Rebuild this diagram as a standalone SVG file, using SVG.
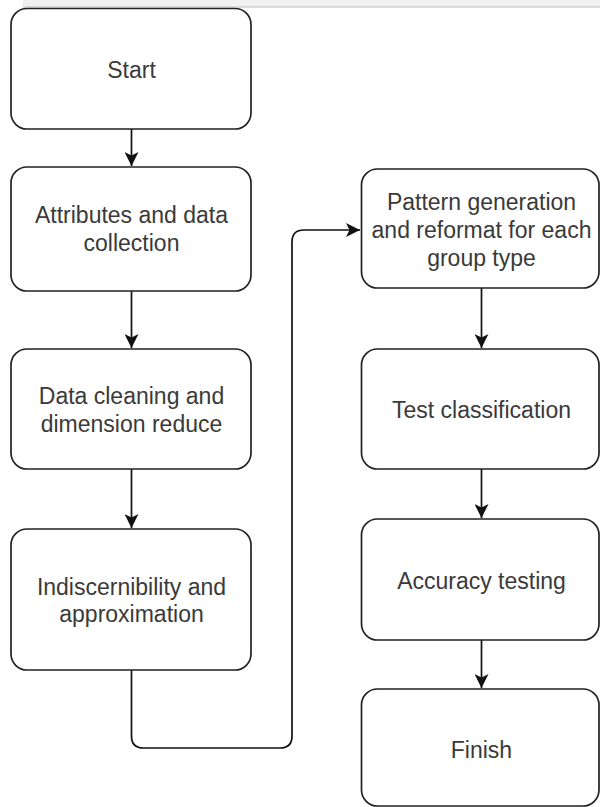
<svg xmlns="http://www.w3.org/2000/svg" width="600" height="807" viewBox="0 0 600 807">
<style>
.box{fill:#fff;stroke:#222;stroke-width:1.7}
.lbl{font-family:"Liberation Sans",Arial,sans-serif;font-size:23px;fill:#3a3a3a;text-anchor:middle}
.edge{fill:none;stroke:#111;stroke-width:1.7}
</style>
<defs>
<marker id="arr" markerWidth="14" markerHeight="14" refX="10" refY="5" orient="auto" markerUnits="userSpaceOnUse" viewBox="0 0 10 10">
<path d="M0,0 L10,5 L0,10 L2.5,5 Z" fill="#111"/>
</marker>
</defs>
<rect x="23" y="0" width="577" height="7" fill="#f1f1f1"/>
<line x1="23" y1="7" x2="600" y2="7" stroke="#bdbdbd" stroke-width="1"/>
<g id="connectors">
<line class="edge" x1="131.5" y1="129" x2="131.5" y2="166" marker-end="url(#arr)"/>
<line class="edge" x1="131.5" y1="291" x2="131.5" y2="348" marker-end="url(#arr)"/>
<line class="edge" x1="131.5" y1="469" x2="131.5" y2="528" marker-end="url(#arr)"/>
<path class="edge" d="M131.5,670 V736 Q131.5,748 143.5,748 H280 Q292,748 292,736 V242 Q292,230 304,230 H360" marker-end="url(#arr)"/>
<line class="edge" x1="481.5" y1="288" x2="481.5" y2="348" marker-end="url(#arr)"/>
<line class="edge" x1="481.5" y1="469" x2="481.5" y2="518" marker-end="url(#arr)"/>
<line class="edge" x1="481.5" y1="640" x2="481.5" y2="688" marker-end="url(#arr)"/>
</g>
<g id="start">
<rect class="box" x="11" y="8.5" width="240" height="120.5" rx="16"/>
<text class="lbl" x="131.5" y="78">Start</text>
</g>
<g id="attributes">
<rect class="box" x="11" y="167" width="240" height="124" rx="16"/>
<text class="lbl" x="131.5" y="223">Attributes and data</text>
<text class="lbl" x="131.5" y="251">collection</text>
</g>
<g id="cleaning">
<rect class="box" x="11" y="349" width="240" height="120" rx="16"/>
<text class="lbl" x="131.5" y="404">Data cleaning and</text>
<text class="lbl" x="131.5" y="432">dimension reduce</text>
</g>
<g id="indiscernibility">
<rect class="box" x="11" y="529" width="240" height="141" rx="16"/>
<text class="lbl" x="131.5" y="595">Indiscernibility and</text>
<text class="lbl" x="131.5" y="622">approximation</text>
</g>
<g id="pattern">
<rect class="box" x="361.5" y="169" width="237.5" height="119" rx="16"/>
<text class="lbl" x="481.5" y="210">Pattern generation</text>
<text class="lbl" x="481.5" y="238">and reformat for each</text>
<text class="lbl" x="481.5" y="266">group type</text>
</g>
<g id="test">
<rect class="box" x="361.5" y="349" width="237.5" height="120" rx="16"/>
<text class="lbl" x="481.5" y="418">Test classification</text>
</g>
<g id="accuracy">
<rect class="box" x="361.5" y="519" width="237.5" height="121" rx="16"/>
<text class="lbl" x="481.5" y="589">Accuracy testing</text>
</g>
<g id="finish">
<rect class="box" x="361.5" y="689" width="237.5" height="117" rx="16"/>
<text class="lbl" x="481.5" y="758">Finish</text>
</g>
</svg>
